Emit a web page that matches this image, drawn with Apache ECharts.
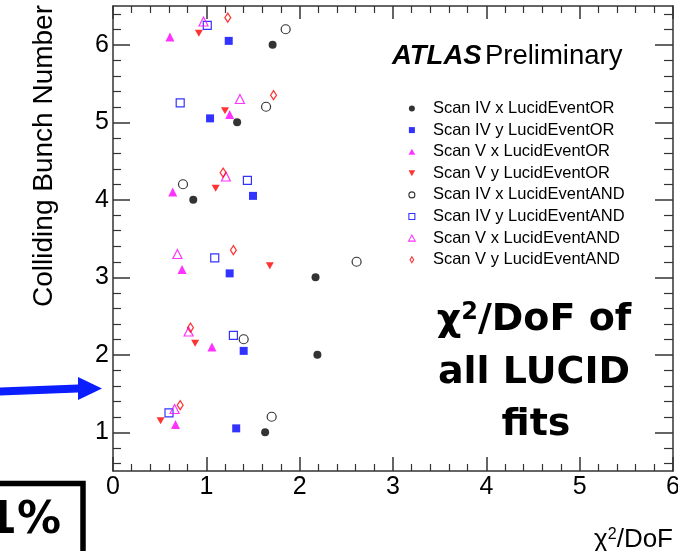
<!DOCTYPE html>
<html>
<head>
<meta charset="utf-8">
<script src="https://cdn.jsdelivr.net/npm/echarts@6/dist/echarts.min.js"></script>
<style>html,body{margin:0;padding:0;background:#fff}#c{width:678px;height:551px}</style>
</head>
<body>
<div id="c"></div>
<script>
// ---- data ----
const bunchNumbers = [1, 2, 3, 4, 5, 6];
const seriesNames = [
  'Scan IV x LucidEventOR', 'Scan IV y LucidEventOR',
  'Scan V x LucidEventOR', 'Scan V y LucidEventOR',
  'Scan IV x LucidEventAND', 'Scan IV y LucidEventAND',
  'Scan V x LucidEventAND', 'Scan V y LucidEventAND'
];
// chi2/DoF per colliding bunch (bunch 1..6)
const scanIVxOR  = [1.63, 2.19, 2.17, 0.86, 1.33, 1.71];
const scanIVyOR  = [1.32, 1.40, 1.25, 1.50, 1.04, 1.24];
const scanVxOR   = [0.67, 1.06, 0.74, 0.64, 1.25, 0.61];
const scanVyOR   = [0.51, 0.88, 1.68, 1.10, 1.20, 0.92];
const scanIVxAND = [1.70, 1.40, 2.61, 0.75, 1.64, 1.85];
const scanIVyAND = [0.60, 1.29, 1.09, 1.44, 0.72, 1.01];
const scanVxAND  = [0.66, 0.81, 0.69, 1.21, 1.36, 0.97];
const scanVyAND  = [0.72, 0.83, 1.29, 1.18, 1.72, 1.23];
// vertical display shift of each series above its bunch number
const seriesShift = [0, 0.05, 0.10, 0.15, 0.20, 0.25, 0.30, 0.35];
const xTickLabels = ['0', '1', '2', '3', '4', '5', '6'];
const yTickLabels = ['1', '2', '3', '4', '5', '6'];

const allValues = [scanIVxOR, scanIVyOR, scanVxOR, scanVyOR, scanIVxAND, scanIVyAND, scanVxAND, scanVyAND];

// ---- styles ----
const FONT = "'Liberation Sans', Arial, Helvetica, sans-serif";
const BIG = "'DejaVu Sans', sans-serif";
const AX = '#333';
const colors = ['#000000', '#0000ff', '#ff00ff', '#ff0000', '#000000', '#0000ff', '#ff00ff', '#ff0000'];
const filled = [true, true, true, true, false, false, false, false];
const DOWN_TRI = 'path://M0,0L10,0L5,9Z';
const symbols = ['circle', 'rect', 'triangle', DOWN_TRI, 'circle', 'rect', 'triangle', 'diamond'];
const sizes = [8, 8, 9, [8, 7], 9, 8, 9, [6, 9]];
const legendIcons = [
  'path://M5,0A5,5 0 1,1 5,10A5,5 0 1,1 5,0Z',
  'path://M0,0H10V10H0Z',
  'path://M5,0L10,9L0,9Z',
  'path://M0,0L10,0L5,9Z',
  'path://M5,0A5,5 0 1,1 5,10A5,5 0 1,1 5,0Z',
  'path://M0,0H10V10H0Z',
  'path://M5,0L10,9L0,9Z',
  'path://M3,0L6,5L3,10L0,5Z'
];

const yMajor = yTickLabels.map(Number);
const yMinor = [];
for (let b = 0; b <= 6; b++) {
  [-0.4, -0.2, 0.2, 0.4].forEach(d => {
    const v = Math.round((b + d) * 10) / 10;
    if (v > 0.5 && v < 6.5) yMinor.push(v);
  });
}

function xAxisDef(pos, showLabel, majorLen, minorLen) {
  return {
    type: 'value', position: pos, min: 0, max: 6, interval: 1,
    axisLine: {show: true, onZero: false, lineStyle: {color: AX, width: 1.5}},
    axisTick: {show: true, inside: true, length: majorLen, lineStyle: {color: AX, width: 1.5}},
    minorTick: {show: true, splitNumber: 5, length: minorLen, lineStyle: {color: AX, width: 1.2}},
    splitLine: {show: false}, minorSplitLine: {show: false},
    axisLabel: {
      show: showLabel, fontSize: 25, fontFamily: FONT, color: '#000', margin: 4,
      alignMinLabel: 'center', alignMaxLabel: 'center', hideOverlap: false,
      formatter: v => xTickLabels[Math.round(v)]
    }
  };
}
function yAxisDef(pos, showLine, ticks, len, showLabel) {
  return {
    type: 'value', position: pos, min: 0.5, max: 6.5,
    axisLine: {show: showLine, onZero: false, lineStyle: {color: AX, width: 1.5}},
    axisTick: {show: true, inside: true, length: len, customValues: ticks, lineStyle: {color: AX, width: showLine ? 1.5 : 1.2}},
    minorTick: {show: false},
    splitLine: {show: false},
    axisLabel: {
      show: showLabel, customValues: yMajor, fontSize: 25, fontFamily: FONT, color: '#000', margin: 4,
      formatter: v => yTickLabels[yMajor.indexOf(Math.round(v))]
    }
  };
}

const series = allValues.map((vals, i) => ({
  type: 'scatter',
  name: seriesNames[i],
  xAxisIndex: 0, yAxisIndex: 0,
  symbol: symbols[i],
  symbolSize: sizes[i],
  data: vals.map((x, k) => [x, bunchNumbers[k] + seriesShift[i]]),
  itemStyle: filled[i]
    ? {color: colors[i], borderWidth: 0}
    : {color: 'rgba(255,255,255,0)', borderColor: colors[i], borderWidth: 1.2},
  emphasis: {disabled: true},
  silent: true
}));

const chart = echarts.init(document.getElementById('c'), null, {renderer: 'canvas'});
chart.setOption({
  animation: false,
  backgroundColor: '#fff',
  grid: {left: 113, top: 6, width: 560, height: 465, containLabel: false, outerBoundsMode: 'none'},
  xAxis: [xAxisDef('bottom', true, 14, 7), xAxisDef('top', false, 13, 7)],
  yAxis: [
    yAxisDef('left', true, yMajor, 17, true),
    yAxisDef('left', false, yMinor, 8, false),
    yAxisDef('right', true, yMajor, 18, false),
    yAxisDef('right', false, yMinor, 9, false)
  ],
  legend: {
    orient: 'vertical', left: 408, top: 100, padding: 0,
    itemWidth: 32, itemHeight: 6, itemGap: 4.6,
    symbolKeepAspect: true, selectedMode: false,
    textStyle: {fontSize: 16.5, lineHeight: 16, fontFamily: FONT, color: '#000'},
    data: seriesNames.map((n, i) => ({
      name: n, icon: legendIcons[i],
      itemStyle: filled[i] ? {borderWidth: 0} : {borderWidth: 1.1}
    }))
  },
  graphic: [
    {type: 'text', x: 44, y: 5, rotation: Math.PI / 2,
     style: {text: 'Colliding Bunch Number', align: 'right', verticalAlign: 'middle', fontSize: 28, fontFamily: FONT, fill: '#000'}},
    {type: 'text', x: 673, y: 539.5,
     style: {text: '{t|χ}{s|2}{t|/DoF}', align: 'right', verticalAlign: 'middle', fill: '#000',
       rich: {t: {fontSize: 26, fontFamily: FONT, lineHeight: 26}, s: {fontSize: 16, fontFamily: FONT, verticalAlign: 'top', lineHeight: 26}}}},
    {type: 'text', x: 392, y: 56,
     style: {text: '{a|ATLAS} {b|Preliminary}', verticalAlign: 'middle', fill: '#000',
       rich: {a: {fontSize: 27.5, fontWeight: 'bold', fontStyle: 'italic', fontFamily: FONT}, b: {fontSize: 27.5, fontFamily: FONT}}}},
    {type: 'text', x: 534, y: 320.5,
     style: {text: '{t|χ}{s|2}{t|/DoF of}', align: 'center', verticalAlign: 'middle', fill: '#000',
       rich: {t: {fontSize: 38, fontWeight: 'bold', fontFamily: BIG, lineHeight: 40}, s: {fontSize: 24, fontWeight: 'bold', fontFamily: BIG, verticalAlign: 'top', lineHeight: 40}}}},
    {type: 'text', x: 534, y: 373.5,
     style: {text: 'all LUCID', align: 'center', verticalAlign: 'middle', fill: '#000', fontSize: 38, fontWeight: 'bold', fontFamily: BIG}},
    {type: 'text', x: 536, y: 425.5,
     style: {text: 'fits', align: 'center', verticalAlign: 'middle', fill: '#000', fontSize: 38, fontWeight: 'bold', fontFamily: BIG}},
    {type: 'polygon', shape: {points: [[0, 387.5], [78, 384.5], [78, 377], [102, 388.5], [78, 400], [78, 392.5], [0, 395.5]]},
     style: {fill: '#0a1eff'}},
    {type: 'rect', shape: {x: -20, y: 483.5, width: 103, height: 100},
     style: {fill: 'none', stroke: '#000', lineWidth: 5.5}},
    {type: 'text', x: 61, y: 521.5,
     style: {text: '1%', align: 'right', verticalAlign: 'middle', fill: '#000', fontSize: 44, fontWeight: 'bold', fontFamily: BIG}}
  ],
  series: series
});
</script>
</body>
</html>
